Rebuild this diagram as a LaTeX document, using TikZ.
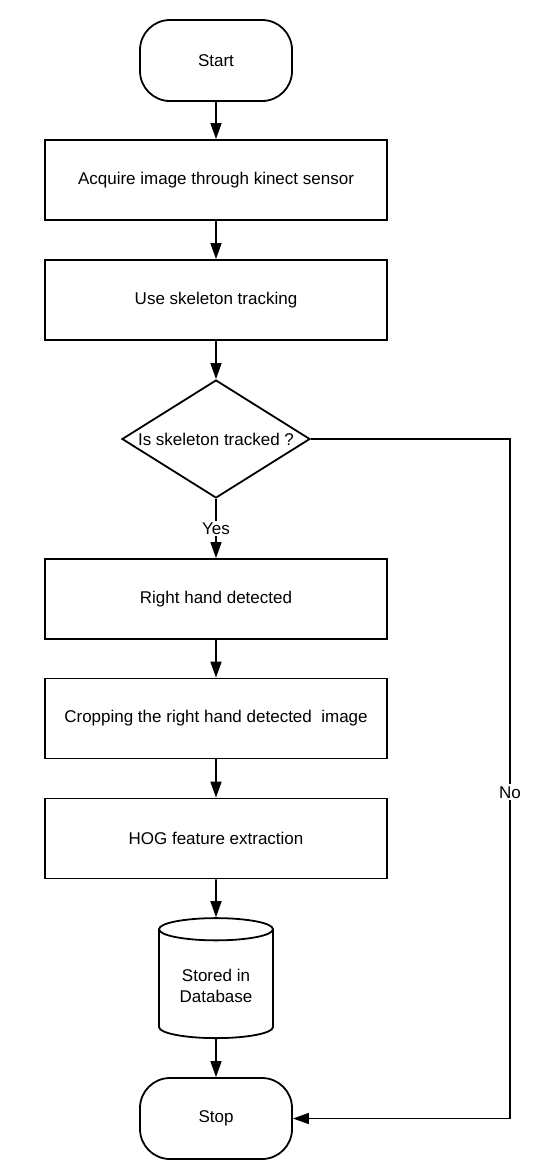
\documentclass[tikz,border=0pt]{standalone}
\usepackage{fontspec}
\setmainfont{Liberation Sans}
\usetikzlibrary{shapes.geometric,arrows.meta,positioning}

\begin{document}
\begin{tikzpicture}[x=1pt,y=-1pt,
    every node/.style={font=\fontsize{17}{20.5}\selectfont},
    terminal/.style={draw, line width=1.8pt, rounded corners=30pt, minimum width=152pt, minimum height=81pt},
    process/.style={draw, line width=1.8pt, minimum width=342pt, minimum height=80pt},
    decision/.style={draw, line width=1.8pt, diamond, aspect=1.6, inner sep=0pt, minimum width=188pt, minimum height=118pt},
    store/.style={draw, line width=1.8pt, cylinder, shape border rotate=90, aspect=0.28, align=center, minimum width=114pt, minimum height=120pt},
    flow/.style={line width=1.6pt, -{Triangle[length=16pt,width=11pt]}},
    answer/.style={fill=white, inner sep=2pt}]
    \useasboundingbox (0,0) rectangle (542,1165);

\node[terminal] (start) at (216,60.5) {Start};
\node[process] (acquire) at (216,180) {Acquire image through kinect sensor};
\node[process] (skeleton) at (216,300) {Use skeleton tracking};
\node[decision] (tracked) at (216,439) {Is skeleton tracked ?};
\node[process] (hand) at (216,599) {Right hand detected};
\node[process] (crop) at (216,718.5) {Cropping the right hand detected\ \ image};
\node[process] (hog) at (216,838.5) {HOG feature extraction};
\node[store] (db) at (216,986) {Stored in\\Database};
\node[terminal] (stop) at (216,1118.5) {Stop};

\coordinate (nocorner) at (510,439);

\draw[flow] (start) -- (acquire);
\draw[flow] (acquire) -- (skeleton);
\draw[flow] (skeleton) -- (tracked);
\draw[flow] (tracked) -- node[answer]{Yes} (hand);
\draw[flow] (hand) -- (crop);
\draw[flow] (crop) -- (hog);
\draw[flow] (hog) -- (db);
\draw[flow] (db) -- (stop);

\draw[flow] (tracked.east) -- (nocorner) |- node[answer, pos=0.26]{No} (stop.east);

\end{tikzpicture}
\end{document}
